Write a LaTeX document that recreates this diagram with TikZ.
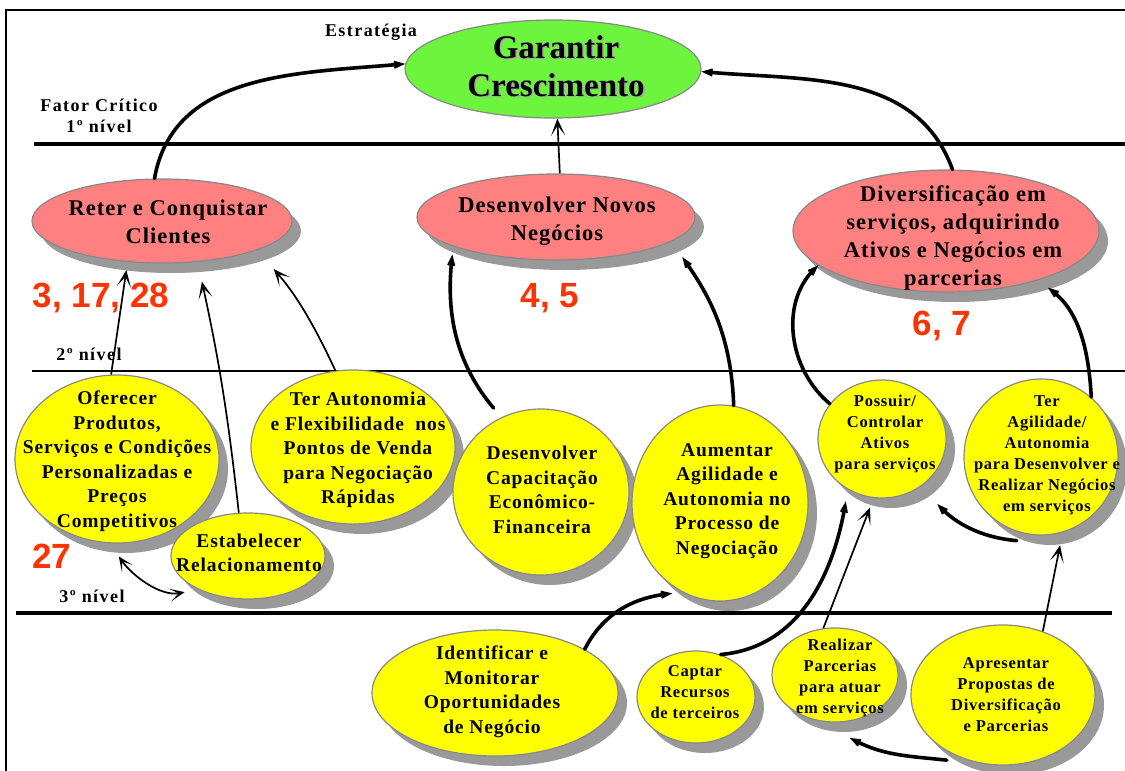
\documentclass[tikz,border=0pt]{standalone}
\usepackage{fontspec}
\setmainfont{Liberation Serif}
\newfontfamily\bubblefont[LetterSpace=4.5]{Liberation Serif}
\newfontfamily\levelfont[LetterSpace=8]{Liberation Serif}
\newfontfamily\figfont{Liberation Sans}
\usetikzlibrary{shapes.geometric,arrows.meta,shadows,calc}

\definecolor{goalpink}{RGB}{255,128,128}
\definecolor{taskyellow}{RGB}{255,255,0}
\definecolor{topgreen}{RGB}{108,245,60}
\definecolor{shadegray}{RGB}{153,153,153}
\definecolor{rimgray}{RGB}{136,136,136}
\definecolor{refred}{RGB}{255,51,0}

\tikzset{
  bubble/.style={ellipse, draw=rimgray, line width=1.2pt, inner sep=0pt},
  shaded/.style={bubble, drop shadow={shadow xshift=9pt, shadow yshift=-10pt, fill=shadegray, opacity=1}},
  goal/.style={shaded, fill=goalpink},
  task/.style={shaded, fill=taskyellow},
  dims/.style 2 args={minimum width=#1pt, minimum height=#2pt},
  toptext/.style={align=center, inner sep=0pt, font=\bfseries\fontsize{33}{38}\selectfont},
  goaltext/.style={align=center, inner sep=0pt, font=\bubblefont\bfseries\fontsize{22.5}{28}\selectfont},
  bigtext/.style={align=center, inner sep=0pt, font=\bubblefont\bfseries\fontsize{19.5}{24.5}\selectfont},
  smalltext/.style={align=center, inner sep=0pt, font=\bubblefont\bfseries\fontsize{16.5}{21}\selectfont},
  leveltext/.style={align=center, inner sep=0pt, font=\levelfont\bfseries\fontsize{18}{20.5}\selectfont},
  reftext/.style={inner sep=0pt, text=refred, font=\figfont\bfseries\fontsize{35}{40}\selectfont},
  heavy/.style={line width=3.6pt, line cap=round, -{Stealth[length=20pt,width=15pt,inset=12pt]}},
  light/.style={line width=1.7pt, -{Stealth[length=17pt,width=14pt,inset=10pt]}},
  lightboth/.style={line width=1.7pt, {Stealth[length=15pt,width=13pt,inset=9pt]}-{Stealth[length=15pt,width=13pt,inset=9pt]}},
}

\begin{document}
\begin{tikzpicture}[x=1pt, y=1pt]
\useasboundingbox (0,0) rectangle (1125,-771);

% frame and level separators
\draw[line width=2pt] (6,-800) |- (1140,-9.5);
\draw[line width=4pt] (34,-143.5) -- (1130,-143.5);
\draw[line width=1.5pt] (32,-371) -- (1130,-371);
\draw[line width=4pt] (16,-613) -- (1112,-613);

% level labels
\node[leveltext, anchor=base] (lbl-estrat) at (371,-36) {Estratégia};
\node[leveltext] (lbl-fator) at (99,-116) {Fator Crítico\\1º nível};
\node[leveltext, anchor=base] (lbl-two) at (89,-360) {2º nível};
\node[leveltext, anchor=base] (lbl-three) at (92,-602) {3º nível};

% strategy
\node[bubble, fill=topgreen, dims={296}{98}] (garantir) at (553,-69) {};

% critical factors, level 1
\node[goal, dims={260}{84}] (reter) at (162,-221) {};
\node[goal, dims={278}{86}] (desnovos) at (556,-217) {};
\node[goal, dims={306}{122}] (diversif) at (946,-231) {};

% level 2
\node[task, dims={204}{168}] (oferecer) at (117,-459) {};
\node[task, dims={154}{86}] (estab) at (248,-556) {};
\node[task, dims={204}{154}] (terauto) at (353,-447) {};
\node[task, dims={176}{166}] (capacit) at (541,-492) {};
\node[task, dims={176}{196}] (aumentar) at (720,-503) {};
\node[task, dims={128}{118}] (possuir) at (882,-439) {};
\node[task, dims={154}{156}] (teragil) at (1041,-457) {};

% level 3
\node[task, dims={246}{126}] (identif) at (495,-693) {};
\node[task, dims={118}{92}] (captar) at (696,-697) {};
\node[task, dims={126}{94}] (realizar) at (835,-675) {};
\node[task, dims={184}{140}] (apresent) at (1003,-695) {};

% texts
\node[toptext, text=black!35] (garantir-shade) at (557.5,-67.5) {Garantir\\Crescimento};
\node[toptext] (garantir-t) at (556,-66) {Garantir\\Crescimento};
\node[goaltext] (reter-t) at (168,-222) {Reter e Conquistar\\Clientes};
\node[goaltext] (desnovos-t) at (557,-221) {Desenvolver Novos\\Negócios};
\node[goaltext] (diversif-t) at (953,-238) {Diversificação em\\serviços, adquirindo\\Ativos e Negócios em\\parcerias};
\node[bigtext] (oferecer-t) at (117,-461) {Oferecer\\Produtos,\\Serviços e Condições\\Personalizadas e\\Preços\\Competitivos};
\node[bigtext] (estab-t) at (249,-553) {Estabelecer\\Relacionamento};
\node[bigtext] (terauto-t) at (358,-450) {Ter Autonomia\\e Flexibilidade~~nos\\Pontos de Venda\\para Negociação\\Rápidas};
\node[bigtext] (capacit-t) at (542,-490) {Desenvolver\\Capacitação\\Econômico-\\Financeira};
\node[bigtext] (aumentar-t) at (727,-501) {Aumentar\\Agilidade e\\Autonomia no\\Processo de\\Negociação};
\node[smalltext] (possuir-t) at (885,-434) {Possuir/\\Controlar\\Ativos\\para serviços};
\node[smalltext] (teragil-t) at (1047,-455) {Ter\\Agilidade/\\Autonomia\\para Desenvolver e\\Realizar Negócios\\em serviços};
\node[bigtext] (identif-t) at (492,-692) {Identificar e\\Monitorar\\Oportunidades\\de Negócio};
\node[smalltext] (captar-t) at (695,-692) {Captar\\Recursos\\de terceiros};
\node[smalltext] (realizar-t) at (840,-678) {Realizar\\Parcerias\\para atuar\\em serviços};
\node[smalltext] (apresent-t) at (1006,-695) {Apresentar\\Propostas de\\Diversificação\\e Parcerias};

% reference numbers
\node[reftext, anchor=base] (ref-reter) at (101,-307) {3, 17, 28};
\node[reftext, anchor=base] (ref-desnovos) at (550,-307) {4, 5};
\node[reftext, anchor=base] (ref-diversif) at (942,-335) {6, 7};
\node[reftext, anchor=base] (ref-oferecer) at (52,-568) {27};

% level 1 -> strategy
\draw[heavy] (reter.100) to[out=80, in=185] (garantir.178);
\draw[light] (desnovos.85) -- (garantir.-85);
\draw[heavy] (diversif.84) to[out=110, in=-5] (garantir.-1);

% level 2 -> level 1
\draw[light, shorten >=8pt] (oferecer.94) -- (reter.230);
\draw[light, shorten >=20pt] (estab.102) to[bend right=3] (reter.-49);
\draw[light, shorten >=25pt] (terauto.103) to[bend right=8] (reter.-17);
\draw[heavy, shorten <=12pt, shorten >=8pt] (capacit.118) to[out=130, in=-96] (desnovos.196);
\draw[heavy, shorten >=19pt] (aumentar.82) to[out=92, in=-55] (desnovos.-12);
\draw[heavy] (possuir.146) to[out=140, in=-135] (diversif.195);
\draw[heavy, shorten >=12pt] (teragil.50) to[out=93, in=-38] (diversif.-28);

% within level 2
\draw[lightboth, shorten <=16pt, shorten >=14pt] (oferecer.-95) to[out=-55, in=191] (estab.214);
\draw[heavy, shorten >=24pt] ($(teragil.252)+(0,-9)$) to[out=175, in=-46] (possuir.-51);

% level 3 -> level 2
\draw[heavy, shorten >=10pt] (identif.26) to[out=63, in=187] (aumentar.247);
\draw[heavy, shorten >=12pt] (captar.60) to[out=5, in=-100] (possuir.236);
\draw[light, shorten >=10pt] (realizar.104) -- (possuir.262);
\draw[light, shorten >=13pt] (apresent.58) -- (teragil.-74);

% within level 3
\draw[heavy] ($(apresent.225)+(0,-9)$) to[out=174, in=-27] ($(realizar.-70)+(-2,-17)$);
\end{tikzpicture}
\end{document}
